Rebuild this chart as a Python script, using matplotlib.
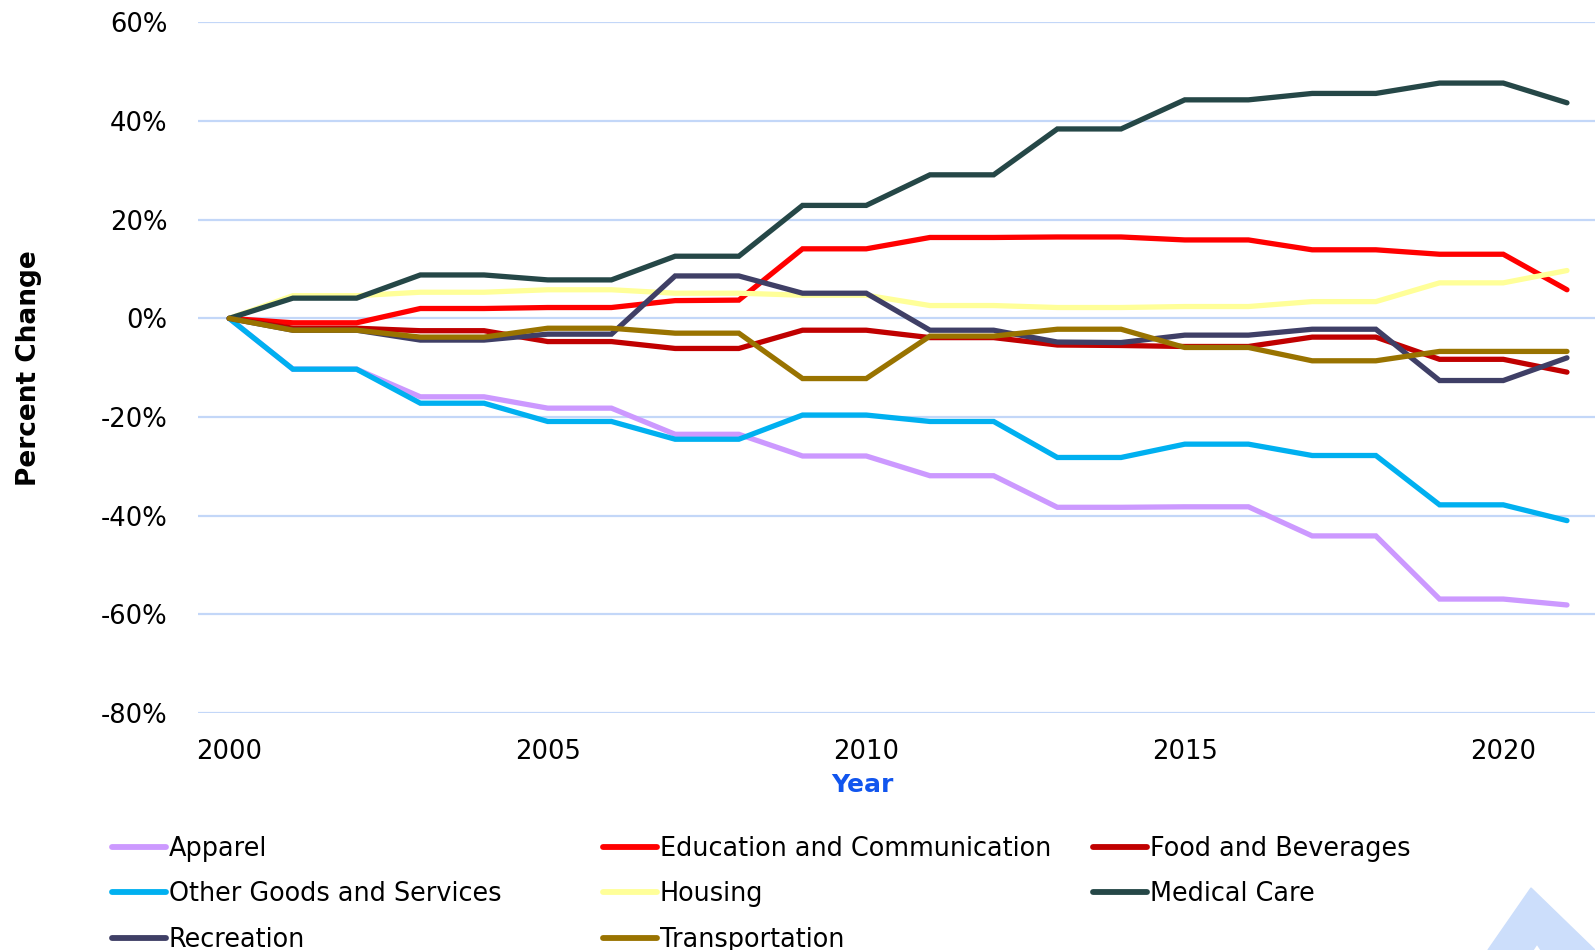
import matplotlib
matplotlib.use("Agg")
import matplotlib.pyplot as plt
from matplotlib.ticker import FuncFormatter
from matplotlib.patches import Polygon

# percent change since 2000
years = list(range(2000, 2022))
apparel = [0, -10.3, -10.3, -15.9, -15.9, -18.2, -18.2, -23.5, -23.5, -27.9, -27.9,
           -31.9, -31.9, -38.3, -38.3, -38.2, -38.2, -44.1, -44.1, -56.9, -56.9, -58.1]
education = [0, -0.9, -0.9, 2.0, 2.0, 2.2, 2.2, 3.6, 3.7, 14.1, 14.1,
             16.4, 16.4, 16.5, 16.5, 15.9, 15.9, 13.9, 13.9, 13.0, 13.0, 5.8]
food = [0, -2.0, -2.0, -2.5, -2.5, -4.7, -4.7, -6.1, -6.1, -2.4, -2.4,
        -3.9, -3.9, -5.4, -5.5, -5.7, -5.7, -3.8, -3.8, -8.3, -8.3, -10.9]
other_goods = [0, -10.3, -10.3, -17.2, -17.2, -20.9, -20.9, -24.5, -24.5, -19.6, -19.6,
               -20.9, -20.9, -28.2, -28.2, -25.5, -25.5, -27.8, -27.8, -37.8, -37.8, -41.0]
housing = [0, 4.6, 4.6, 5.3, 5.3, 5.8, 5.8, 5.1, 5.1, 4.7, 4.7,
           2.6, 2.6, 2.2, 2.2, 2.4, 2.4, 3.4, 3.4, 7.2, 7.2, 9.7]
medical = [0, 4.1, 4.1, 8.8, 8.8, 7.8, 7.8, 12.6, 12.6, 22.9, 22.9,
           29.1, 29.1, 38.4, 38.4, 44.3, 44.3, 45.6, 45.6, 47.7, 47.7, 43.7]
recreation = [0, -2.4, -2.4, -4.4, -4.4, -3.2, -3.2, 8.6, 8.6, 5.1, 5.1,
              -2.4, -2.4, -4.8, -4.9, -3.4, -3.4, -2.2, -2.2, -12.6, -12.6, -8.0]
transportation = [0, -2.4, -2.4, -3.8, -3.8, -2.0, -2.0, -3.0, -3.0, -12.2, -12.2,
                  -3.6, -3.6, -2.2, -2.2, -5.9, -5.9, -8.6, -8.6, -6.7, -6.7, -6.7]

names = ["Apparel", "Education and Communication", "Food and Beverages",
         "Other Goods and Services", "Housing", "Medical Care", "Recreation",
         "Transportation"]
series = [apparel, education, food, other_goods, housing, medical, recreation, transportation]
colors = ["#CC99FF", "#FF0000", "#C00000", "#00B0F0", "#FFFF99", "#254747", "#3F3F66", "#997300"]

W, H = 1595, 950
fig = plt.figure(figsize=(W / 100, H / 100), dpi=100)
ax = fig.add_axes([198 / W, 1 - 713 / H, 1 - 198 / W, (713 - 22.4) / H])

lines = {}
for name, vals, c in zip(names, series, colors):
    ln, = ax.plot(years, vals, color=c, lw=3.8, solid_capstyle="round",
                  solid_joinstyle="miter", zorder=3)
    lines[name] = ln

ax.set_ylim(-80, 60)
ax.set_xlim(1999.51, 2021.44)
ax.set_yticks(range(-80, 61, 20))
ax.set_xticks(range(2000, 2021, 5))
ax.yaxis.set_major_formatter(FuncFormatter(lambda v, p: f"{int(v)}%"))
ax.grid(axis="y", color="#C3D7F8", lw=1.6, zorder=0)
ax.grid(axis="x", visible=False)
for s in ax.spines.values():
    s.set_visible(False)
ax.tick_params(axis="both", length=0, labelsize=18.6, colors="black")
ax.tick_params(axis="y", pad=22)
ax.tick_params(axis="x", pad=19)

ax.set_ylabel("Percent Change", fontsize=19, fontweight="bold")
ax.yaxis.set_label_coords((42 - 198) / (W - 198), 0.5)
ax.set_xlabel("Year", fontsize=18, fontweight="bold", color="#1155EE")
ax.xaxis.set_label_coords((862.6 - 198) / (W - 198), (713 - 773) / (713 - 22.4))

# legend laid out in three fixed-width columns
cols = [(112, ["Apparel", "Other Goods and Services", "Recreation"]),
        (603, ["Education and Communication", "Housing", "Transportation"]),
        (1093, ["Food and Beverages", "Medical Care"])]
for x0, labels in cols:
    leg = fig.legend([lines[n] for n in labels], labels, loc="upper left",
                     bbox_to_anchor=(x0 / W, 1 - 836 / H), frameon=False,
                     fontsize=18.4, handlelength=2.1, handletextpad=0.12,
                     borderpad=0, borderaxespad=0, labelspacing=0.76)
    for h in leg.legend_handles:
        h.set_linewidth(4.2)

# light blue logo corner, bottom right
fig.patches.append(Polygon([(1488 / W, 0), (1531 / W, 1 - 888 / H), (1 + 2 / W, -2 / H),
                            (1541 / W, 0), (1537 / W, 1 - 944 / H), (1533 / W, 0)],
                           closed=True, transform=fig.transFigure, color="#CCDEFB",
                           zorder=0))

fig.savefig("out.png", dpi=100)
